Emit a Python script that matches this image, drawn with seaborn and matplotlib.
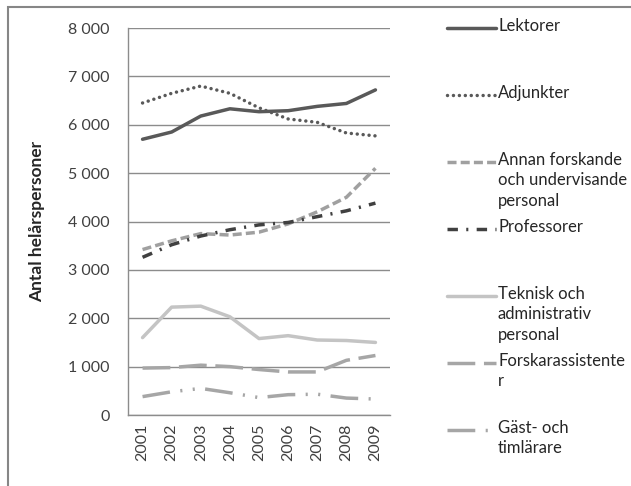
import matplotlib
matplotlib.use('Agg')
import matplotlib.pyplot as plt
from matplotlib.lines import Line2D
from matplotlib.patches import Rectangle
import seaborn as sns

sns.set_style("white")
plt.rcParams['font.family'] = ['Lato', 'DejaVu Sans']

years = [2001, 2002, 2003, 2004, 2005, 2006, 2007, 2008, 2009]

lektorer = [5700, 5850, 6180, 6330, 6270, 6290, 6380, 6440, 6720]
adjunkter = [6450, 6650, 6800, 6650, 6350, 6120, 6050, 5830, 5770]
annan = [3420, 3600, 3750, 3720, 3780, 3950, 4200, 4500, 5100]
professorer = [3260, 3520, 3700, 3830, 3930, 3980, 4100, 4220, 4380]
teknisk = [1600, 2230, 2250, 2030, 1580, 1640, 1550, 1540, 1500]
forskarass = [970, 980, 1030, 1000, 940, 890, 890, 1130, 1230]
gast = [380, 480, 550, 460, 360, 420, 430, 350, 330]

labels = ['Lektorer', 'Adjunkter', 'Annan forskande\noch undervisande\npersonal',
          'Professorer', 'Teknisk och\nadministrativ\npersonal',
          'Forskarassistente\nr', 'Gäst- och\ntimlärare']
series = [lektorer, adjunkter, annan, professorer, teknisk, forskarass, gast]
colors = ['#595959', '#595959', '#a0a0a0', '#404040', '#c4c4c4', '#a6a6a6', '#a6a6a6']
styles = ['-', (0, (0.01, 1.7)), (0, (2.6, 1.2)), (0, (3, 2.4, 0.6, 2.4)),
          '-', (0, (8, 2.5)), (0, (8, 3, 0.6, 3, 0.6, 3))]

fig = plt.figure(figsize=(6.31, 4.86), dpi=100)
ax = fig.add_axes([128/631, 1-415/486, 262/631, 387/486])

for vals, c, ls in zip(series, colors, styles):
    sns.lineplot(x=years, y=vals, ax=ax, color=c, lw=2.5, linestyle=ls)
ax.lines[1].set_dash_capstyle('round')

ax.set_xlim(2000.5, 2009.5)
ax.set_ylim(0, 8000)
ax.set_xticks(years)
ax.set_xticklabels([str(y) for y in years], rotation=90)
ax.set_yticks(range(0, 8001, 1000))
ax.set_yticklabels(['{:,}'.format(v).replace(',', ' ') for v in range(0, 8001, 1000)])
ax.tick_params(length=0, labelsize=11.5, labelcolor='#404040')
ax.tick_params(axis='y', pad=13)
ax.tick_params(axis='x', pad=6)
ax.yaxis.grid(True, color='#8c8c8c', lw=1)
ax.set_axisbelow(True)
for s in ['top', 'right']:
    ax.spines[s].set_visible(False)
for s in ['left', 'bottom']:
    ax.spines[s].set_color('#8c8c8c')
    ax.spines[s].set_linewidth(1)
ax.set_ylabel('Antal helårspersoner', fontsize=12.5, fontweight='bold', color='#262626')
ax.yaxis.set_label_coords(-0.317, 0.5)

# legend, Excel-style slots
for i, (lab, c, ls) in enumerate(zip(labels, colors, styles)):
    ypx = 28 + i * 67
    yf = 1 - ypx / 486
    ln = Line2D([447/631, 496/631], [yf, yf], transform=fig.transFigure,
                color=c, lw=2.5, linestyle=ls)
    if i == 1:
        ln.set_dash_capstyle('round')
    fig.add_artist(ln)
    fig.text(498/631, yf + 10/486, lab, fontsize=12, color='#262626',
             va='top', ha='left', linespacing=1.33)

fig.add_artist(Rectangle((8/631, -0.1), 1.1, 1 - 7/486 + 0.1, transform=fig.transFigure,
                         fill=False, ec='#868686', lw=1.5))

fig.savefig('out.png', dpi=100)
